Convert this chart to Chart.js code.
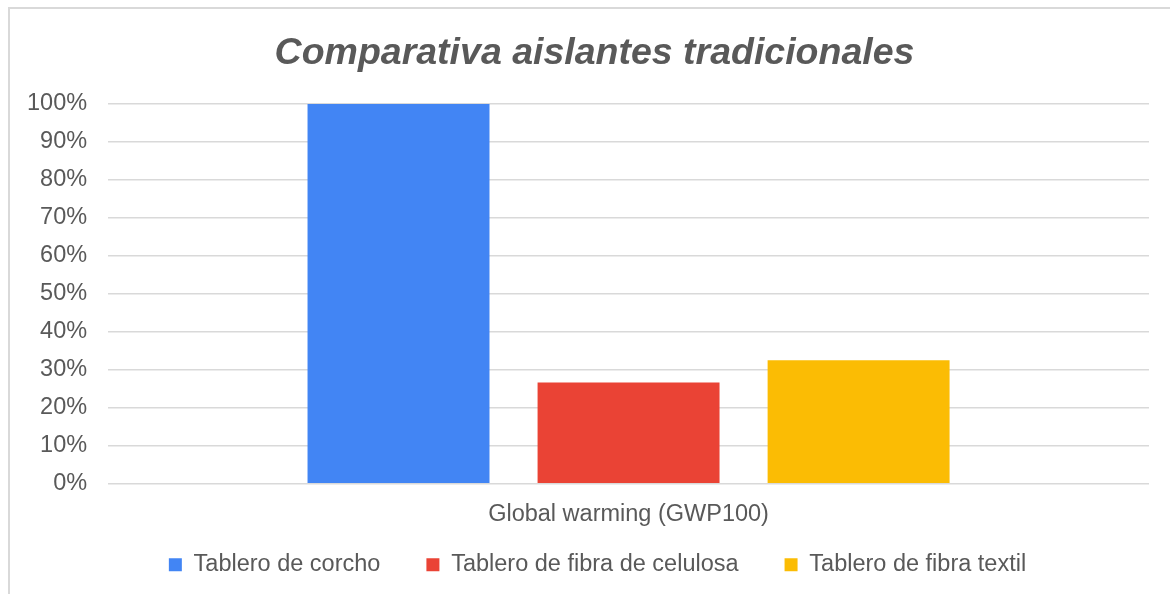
<!DOCTYPE html>
<html>
<head>
<meta charset="utf-8">
<script src="https://cdn.jsdelivr.net/npm/chart.js@4/dist/chart.umd.min.js"></script>
<style>
  html, body { margin: 0; padding: 0; background: #fff; overflow: hidden; }
  #frame { position: absolute; left: 8px; top: 7px; width: 1200px; height: 620px; border: 2px solid #d9d9d9; box-sizing: border-box; }
  #wrap { position: absolute; left: 0; top: 0; width: 1170px; height: 594px; }
</style>
</head>
<body>
<div id="frame"></div>
<div id="wrap"><canvas id="barChart"></canvas></div>
<script>
const categories = ['Global warming (GWP100)'];
const corcho = [100];
const celulosa = [26.7];
const textil = [32.5];

const grey = '#595959';

// nudge title and legend after layout (Excel centres them on the whole frame, not the plot)
const nudgeBoxes = {
    id: 'nudgeBoxes',
    afterLayout(chart) {
        const lg = chart.legend;
        lg.left += 20; lg.right += 20;
        lg.top -= 39;
        const tb = chart.titleBlock;
        tb.left += 17; tb.right += 17;
    }
};

const ctxBar = document.getElementById('barChart').getContext('2d');
const barChart = new Chart(ctxBar, {
    type: 'bar',
    data: {
        labels: categories,
        datasets: [{
            label: 'Tablero de corcho',
            data: corcho,
            backgroundColor: '#4285F4',
        }, {
            label: 'Tablero de fibra de celulosa',
            data: celulosa,
            backgroundColor: '#EA4335',
        }, {
            label: 'Tablero de fibra textil',
            data: textil,
            backgroundColor: '#FBBC04',
        }]
    },
    options: {
        responsive: true,
        maintainAspectRatio: false,
        animation: false,
        categoryPercentage: 0.663,
        barPercentage: 0.791,
        layout: {
            padding: { top: 10, left: 6, right: 21, bottom: 0 }
        },
        plugins: {
            title: {
                display: true,
                text: 'Comparativa aislantes tradicionales',
                color: grey,
                font: { family: 'Liberation Sans', size: 37.5, weight: 'bold', style: 'italic' },
                padding: { top: 21, bottom: 28 }
            },
            legend: {
                display: true,
                position: 'bottom',
                maxHeight: 48,
                labels: {
                    color: grey,
                    font: { family: 'Liberation Sans', size: 23.5 },
                    boxWidth: 13,
                    boxHeight: 13,
                    padding: 46
                }
            },
            tooltip: { enabled: false }
        },
        scales: {
            x: {
                grid: { display: false, drawTicks: false },
                border: { display: false },
                ticks: {
                    color: grey,
                    font: { family: 'Liberation Sans', size: 23.5 },
                    padding: 17
                }
            },
            y: {
                min: 0,
                max: 100,
                grid: { color: '#d9d9d9', lineWidth: 1.5, drawTicks: false },
                border: { display: false },
                ticks: {
                    stepSize: 10,
                    color: grey,
                    font: { family: 'Liberation Sans', size: 23.5 },
                    padding: 21,
                    callback: v => v + '%'
                }
            }
        }
    },
    plugins: [nudgeBoxes]
});
</script>
</body>
</html>
